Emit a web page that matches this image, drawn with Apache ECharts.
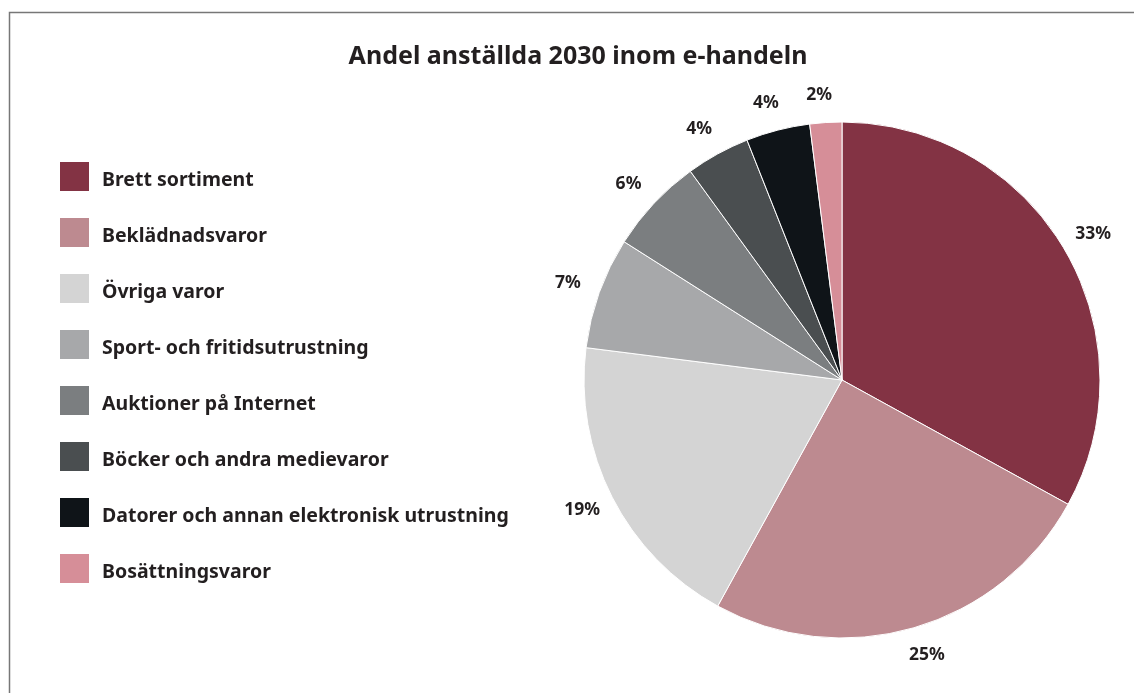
<!DOCTYPE html>
<html>
<head>
<meta charset="utf-8">
<script src="https://cdn.jsdelivr.net/npm/echarts@6/dist/echarts.min.js"></script>
<style>
html,body{margin:0;padding:0;background:#fff;}
#chart{width:1134px;height:693px;}
</style>
</head>
<body>
<div id="chart"></div>
<script>
const titleText = 'Andel anställda 2030 inom e-handeln';
const categories = ['Brett sortiment','Beklädnadsvaror','Övriga varor','Sport- och fritidsutrustning','Auktioner på Internet','Böcker och andra medievaror','Datorer och annan elektronisk utrustning','Bosättningsvaror'];
const values = [33, 25, 19, 7, 6, 4, 4, 2];
const colors = ['#833344','#bd8a90','#d4d4d4','#a7a8aa','#7b7e80','#4a4e50','#0f1418','#d68e98'];

const chart = echarts.init(document.getElementById('chart'));
const FONT = '"Noto Sans"';
chart.setOption({
  animation: false,
  backgroundColor: '#fff',
  color: colors,
  title: {
    text: titleText,
    left: 578, top: 44, textAlign: 'center', padding: 0,
    textStyle: {fontFamily: FONT, fontWeight: 'bold', fontSize: 25, color: '#231f20'}
  },
  graphic: [{
    type: 'rect', shape: {x: 9.5, y: 12.5, width: 1300, height: 900},
    style: {fill: 'none', stroke: '#777', lineWidth: 1.5}, silent: true, z: -1
  }],
  legend: {
    orient: 'vertical', left: 58, top: 160, padding: 0,
    itemWidth: 31, itemHeight: 31, itemGap: 23,
    icon: 'rect',
    formatter: '{t|{name}}',
    textStyle: {
      fontFamily: FONT, fontWeight: 'bold', fontSize: 19.5, color: '#231f20', padding: [0,0,0,7],
      rich: {t: {fontFamily: FONT, fontWeight: 'bold', fontSize: 19.5, color: '#231f20', padding: [7,0,0,0]}}
    },
    data: categories
  },
  series: [{
    type: 'pie',
    center: [842, 380], radius: 258,
    startAngle: 90, clockwise: true,
    avoidLabelOverlap: false,
    itemStyle: {borderColor: '#fff', borderWidth: 1},
    label: {
      show: true, position: 'outside', formatter: '{c}%',
      fontFamily: FONT, fontWeight: 'bold', fontSize: 17.5, color: '#231f20'
    },
    labelLine: {show: false, length: 28, length2: 0},
    labelLayout: {align: 'center', verticalAlign: 'middle'},
    data: categories.map((c, i) => ({name: c, value: values[i]}))
  }]
});
</script>
</body>
</html>
